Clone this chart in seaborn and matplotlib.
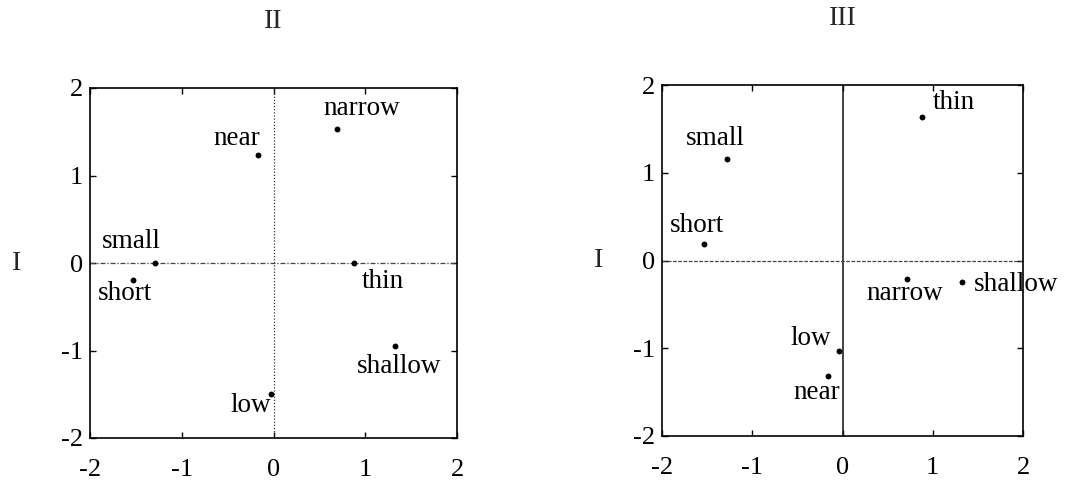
import matplotlib
matplotlib.use("Agg")
import matplotlib.pyplot as plt
import seaborn as sns
import pandas as pd

# Two-dimensional configurations of seven spatial adjectives
words = ["narrow", "near", "small", "short", "thin", "shallow", "low"]

# Panel II (horizontal) vs. I (vertical)
dim2_x = [0.69, -0.17, -1.29, -1.53, 0.88, 1.32, -0.03]
dim2_y = [1.53, 1.23, 0.00, -0.19, 0.00, -0.95, -1.50]

# Panel III (horizontal) vs. I (vertical)
dim3_x = [0.71, -0.16, -1.28, -1.53, 0.88, 1.32, -0.04]
dim3_y = [-0.21, -1.32, 1.16, 0.19, 1.64, -0.25, -1.03]

panel_titles = ["II", "III"]
axis_ticks = [-2, -1, 0, 1, 2]

# label placement relative to each point, in pixels
label_offsets = [
    {"narrow": (25, 21), "near": (-21, 17), "small": (-24, 22), "short": (-8, -14),
     "thin": (29, -18), "shallow": (5, -20), "low": (-20, -11)},
    {"narrow": (-2, -15), "near": (-11, -16), "small": (-12, 20), "short": (-7, 18),
     "thin": (32, 14), "shallow": (54, -2), "low": (-28, 12)},
]

sns.set_theme(style="white")
plt.rcParams["font.family"] = ["Liberation Serif", "DejaVu Serif"]
plt.rcParams["axes.unicode_minus"] = False

fig = plt.figure(figsize=(10.68, 4.82), dpi=100)
ax_left = fig.add_axes([90 / 1068, 1 - 438 / 482, 367 / 1068, 350 / 482])
ax_right = fig.add_axes([662 / 1068, 1 - 436 / 482, 361 / 1068, 351 / 482])

frames = [
    pd.DataFrame({"word": words, "x": dim2_x, "y": dim2_y}),
    pd.DataFrame({"word": words, "x": dim3_x, "y": dim3_y}),
]
zero_styles = [
    # (vertical line style, horizontal line style)
    (dict(ls=(0, (1, 1.5)), lw=0.9, color="#333333"),
     dict(ls=(0, (4, 1.5, 1, 1.5)), lw=0.9, color="#444444")),
    (dict(ls="-", lw=1.1, color="#111111"),
     dict(ls=(0, (3, 1.2)), lw=0.9, color="#444444")),
]
ylabel_pos = [-0.199, -0.175]

for i, (ax, df) in enumerate(zip([ax_left, ax_right], frames)):
    vstyle, hstyle = zero_styles[i]
    ax.axvline(0, zorder=1, **vstyle)
    ax.axhline(0, zorder=1, **hstyle)
    sns.scatterplot(data=df, x="x", y="y", ax=ax, color="black", s=18,
                    edgecolor="black", linewidth=0, zorder=3, legend=False)
    for w, xv, yv in zip(df["word"], df["x"], df["y"]):
        ax.annotate(w, (xv, yv), xytext=label_offsets[i][w],
                    textcoords="offset pixels", ha="center", va="center",
                    fontsize=19.5, color="black", zorder=4)
    ax.set_xlim(-2, 2)
    ax.set_ylim(-2, 2)
    ax.set_xticks(axis_ticks)
    ax.set_yticks(axis_ticks)
    ax.set_xticklabels([str(t) for t in axis_ticks])
    ax.set_yticklabels([str(t) for t in axis_ticks])
    ax.tick_params(direction="in", length=4, width=1.0, color="black",
                   top=True, right=True, bottom=True, left=True,
                   labelsize=19, labelcolor="black")
    ax.tick_params(axis="x", pad=15)
    ax.tick_params(axis="y", pad=5)
    for sp in ax.spines.values():
        sp.set_visible(True)
        sp.set_color("black")
        sp.set_linewidth(1.2)
    ax.set_xlabel("")
    ax.set_ylabel("I", rotation=0, fontsize=20, va="center", ha="center")
    ax.yaxis.set_label_coords(ylabel_pos[i], 0.5)
    ax.set_title(panel_titles[i], y=1.189, va="center", pad=0, fontsize=20)

fig.savefig("out.png", dpi=100, facecolor="white")
